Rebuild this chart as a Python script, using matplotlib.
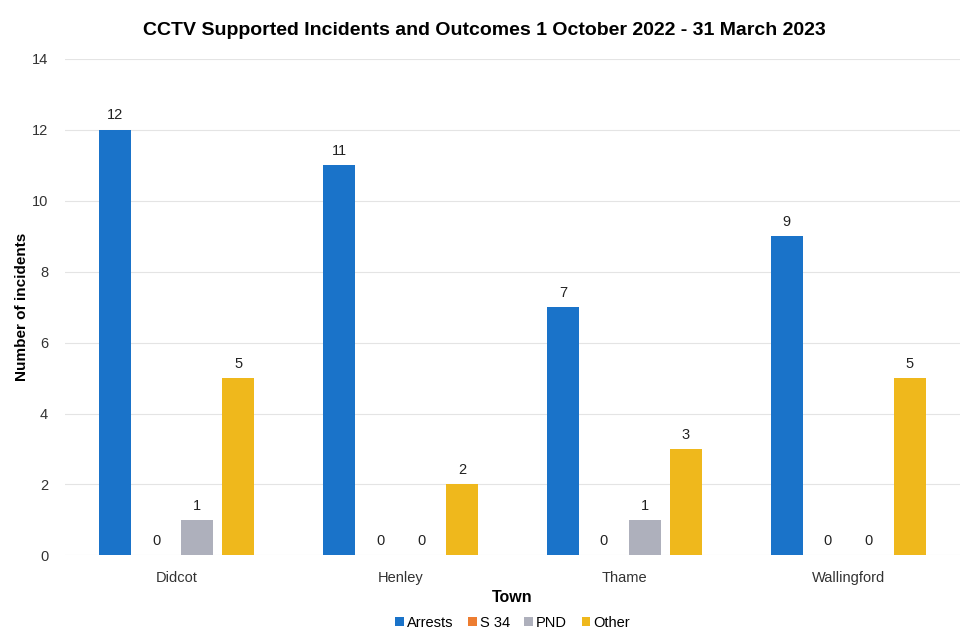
import matplotlib.pyplot as plt
import numpy as np
from matplotlib import font_manager

towns = ['Didcot', 'Henley', 'Thame', 'Wallingford']
arrests = [12, 11, 7, 9]
s34 = [0, 0, 0, 0]
pnd = [1, 0, 1, 0]
other = [5, 2, 3, 5]

series = [('Arrests', arrests, '#1a73c9'),
          ('S 34', s34, '#ed7d31'),
          ('PND', pnd, '#aeb0bc'),
          ('Other', other, '#efb81c')]

plt.rcParams['font.family'] = ['Liberation Sans', 'DejaVu Sans']

# condensed face for the title if it is available
names = {f.name for f in font_manager.fontManager.ttflist}
title_font = 'Liberation Sans Narrow' if 'Liberation Sans Narrow' in names else 'Liberation Sans'

fig = plt.figure(figsize=(9.68, 6.37), dpi=100)
ax = fig.add_axes([0.067, 0.128, 0.925, 0.78])

x = np.arange(len(towns))
pitch = 0.183
width = 0.143
for i, (name, vals, col) in enumerate(series):
    pos = x + (i - 1.5) * pitch
    bars = ax.bar(pos, vals, width=width, color=col, label=name, zorder=2)
    for b, v in zip(bars, vals):
        ax.text(b.get_x() + b.get_width() / 2, v + 0.2, str(v),
                ha='center', va='bottom', fontsize=10.5, color='#222222')

ax.set_xlim(-0.5, 3.5)
ax.set_ylim(0, 14)
ax.set_yticks(range(0, 15, 2))
ax.set_xticks(x)
ax.set_xticklabels(towns)
ax.tick_params(axis='both', length=0, labelsize=10.5, colors='#333333')
ax.tick_params(axis='y', pad=12)
ax.tick_params(axis='x', pad=11)
ax.grid(axis='y', color='#e4e4e4', linewidth=0.8, zorder=0)
for s in ax.spines.values():
    s.set_visible(False)

ax.set_xlabel('Town', fontsize=11.5, fontweight='bold', labelpad=4)
ax.set_ylabel('Number of incidents', fontsize=11, fontweight='bold', labelpad=2)
fig.suptitle('CCTV Supported Incidents and Outcomes 1 October 2022 - 31 March 2023',
             y=0.966, fontsize=14, fontweight='bold', family=title_font)

ax.legend(loc='upper center', bbox_to_anchor=(0.5, -0.095), ncol=4, frameon=False,
          fontsize=10.5, handlelength=0.6, handleheight=0.6, handletextpad=0.2,
          columnspacing=1.0)

fig.savefig('out.png', dpi=100)
